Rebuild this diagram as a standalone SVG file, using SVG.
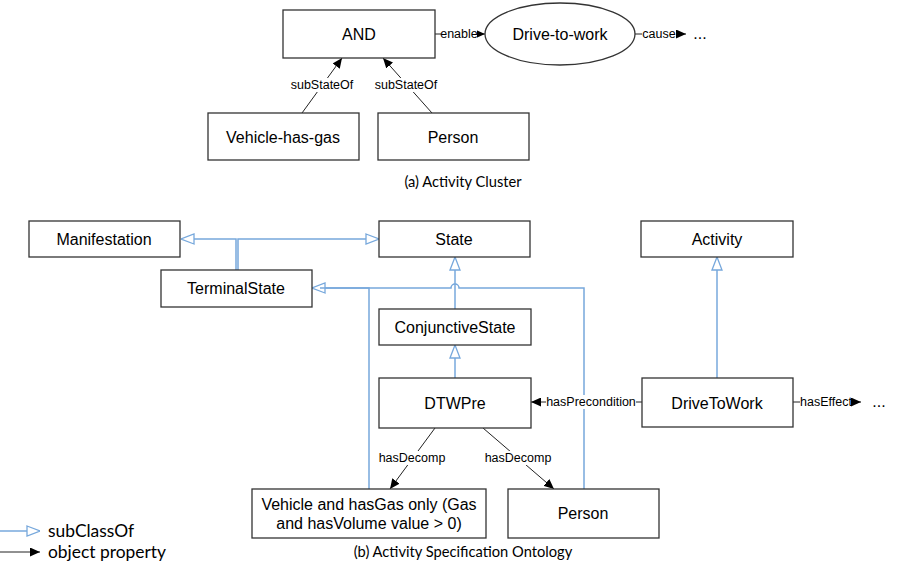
<svg xmlns="http://www.w3.org/2000/svg" width="898" height="573" viewBox="0 0 898 573">
<style>
.box{fill:#fff;stroke:#333;stroke-width:1.3}
.t{font-family:"Liberation Sans",Arial,sans-serif;font-size:16px;fill:#000;text-anchor:middle;dominant-baseline:central}
.lbl{font-family:"Liberation Sans",Arial,sans-serif;font-size:12.5px;fill:#000;text-anchor:middle;dominant-baseline:central}
.cap{font-family:Lato,"Open Sans",sans-serif;font-size:14.7px;fill:#000;text-anchor:middle;dominant-baseline:central}
.leg{font-family:Lato,"Open Sans",sans-serif;font-size:17.4px;fill:#000;dominant-baseline:central}
.obj{fill:none;stroke:#222;stroke-width:1}
.sub{fill:none;stroke:#77a8dc;stroke-width:1.5}
</style>
<defs>
<marker id="fa" viewBox="0 0 10 10" refX="10" refY="5" markerWidth="10" markerHeight="9" markerUnits="userSpaceOnUse" orient="auto" preserveAspectRatio="none"><path d="M0,0 L10,5 L0,10 z" fill="#000"/></marker>
<marker id="ha" viewBox="0 0 14 12" refX="14" refY="6" markerWidth="14" markerHeight="12" markerUnits="userSpaceOnUse" orient="auto"><path d="M1,1 L14,6 L1,11 z" fill="#fff" stroke="#77a8dc" stroke-width="1.3"/></marker>
</defs>
<g id="connectors">
<line class="obj" x1="435" y1="34" x2="485" y2="34" marker-end="url(#fa)"/>
<line class="obj" x1="635" y1="34" x2="686" y2="34" marker-end="url(#fa)"/>
<line class="obj" x1="302" y1="113" x2="342" y2="58" marker-end="url(#fa)"/>
<line class="obj" x1="432" y1="113" x2="383" y2="58" marker-end="url(#fa)"/>
<polyline class="sub" points="236,270 236,239 181,239" marker-end="url(#ha)"/>
<polyline class="sub" points="238,270 238,239 379,239" marker-end="url(#ha)"/>
<polyline class="sub" points="369,489 369,288 312,288" marker-end="url(#ha)"/>
<path class="sub" d="M584,489 L584,288 L459,288 A4,4 0 0 0 451,288 L320,288"/>
<line class="sub" x1="455" y1="309" x2="455" y2="257" marker-end="url(#ha)"/>
<line class="sub" x1="455" y1="378" x2="455" y2="345" marker-end="url(#ha)"/>
<line class="sub" x1="717" y1="378" x2="717" y2="257" marker-end="url(#ha)"/>
<line class="obj" x1="642" y1="402" x2="531" y2="402" marker-end="url(#fa)"/>
<line class="obj" x1="793" y1="402" x2="861" y2="402" marker-end="url(#fa)"/>
<line class="obj" x1="435" y1="428" x2="390" y2="489" marker-end="url(#fa)"/>
<line class="obj" x1="483" y1="428" x2="554" y2="489" marker-end="url(#fa)"/>
<rect x="441" y="27" width="36" height="14" fill="#fff"/><text class="lbl" x="459" y="34">enable</text>
<rect x="642" y="27" width="34" height="14" fill="#fff"/><text class="lbl" x="659" y="34">cause</text>
<text class="t" x="700" y="33">...</text>
<rect x="291" y="78" width="62" height="14" fill="#fff"/><text class="lbl" x="322" y="85">subStateOf</text>
<rect x="375" y="78" width="62" height="14" fill="#fff"/><text class="lbl" x="406" y="85">subStateOf</text>
<rect x="546" y="395" width="90" height="14" fill="#fff"/><text class="lbl" x="591" y="402">hasPrecondition</text>
<rect x="800" y="395" width="51" height="14" fill="#fff"/><text class="lbl" x="826" y="402">hasEffect</text>
<text class="t" x="879" y="401">...</text>
<rect x="378" y="451" width="68" height="14" fill="#fff"/><text class="lbl" x="412" y="458">hasDecomp</text>
<rect x="484" y="451" width="68" height="14" fill="#fff"/><text class="lbl" x="518" y="458">hasDecomp</text>
</g>
<g id="and"><rect class="box" x="283" y="10" width="152" height="48"/><text class="t" x="359" y="34">AND</text></g>
<g id="drive-to-work"><ellipse class="box" cx="560" cy="34" rx="75" ry="31"/><text class="t" x="560" y="34">Drive-to-work</text></g>
<g id="vehicle-has-gas"><rect class="box" x="208" y="113" width="151" height="47"/><text class="t" x="283" y="137">Vehicle-has-gas</text></g>
<g id="person-a"><rect class="box" x="378" y="113" width="151" height="47"/><text class="t" x="453" y="137">Person</text></g>
<text class="cap" x="463" y="181">(a) Activity Cluster</text>
<g id="manifestation"><rect class="box" x="29" y="221" width="151" height="36"/><text class="t" x="104" y="239">Manifestation</text></g>
<g id="state"><rect class="box" x="379" y="221" width="151" height="36"/><text class="t" x="454" y="239">State</text></g>
<g id="activity"><rect class="box" x="641" y="221" width="152" height="36"/><text class="t" x="717" y="239">Activity</text></g>
<g id="terminalstate"><rect class="box" x="161" y="270" width="151" height="37"/><text class="t" x="236" y="288">TerminalState</text></g>
<g id="conjunctivestate"><rect class="box" x="379" y="309" width="152" height="36"/><text class="t" x="455" y="327">ConjunctiveState</text></g>
<g id="dtwpre"><rect class="box" x="379" y="378" width="152" height="50"/><text class="t" x="455" y="403">DTWPre</text></g>
<g id="drivetowork"><rect class="box" x="642" y="378" width="151" height="49"/><text class="t" x="717" y="403">DriveToWork</text></g>
<g id="vehicle"><rect class="box" x="252" y="489" width="234" height="49"/><text class="t" x="369" y="504">Vehicle and hasGas only (Gas</text><text class="t" x="369" y="523">and hasVolume value &gt; 0)</text></g>
<g id="person-b"><rect class="box" x="508" y="489" width="151" height="49"/><text class="t" x="583" y="513">Person</text></g>
<text class="cap" x="463" y="551">(b) Activity Specification Ontology</text>
<g id="legend">
<line class="sub" x1="0" y1="531" x2="40" y2="531" marker-end="url(#ha)"/>
<text class="leg" x="48" y="530">subClassOf</text>
<line class="obj" x1="0" y1="552" x2="40" y2="552" marker-end="url(#fa)"/>
<text class="leg" x="48" y="551">object property</text>
</g>
</svg>
